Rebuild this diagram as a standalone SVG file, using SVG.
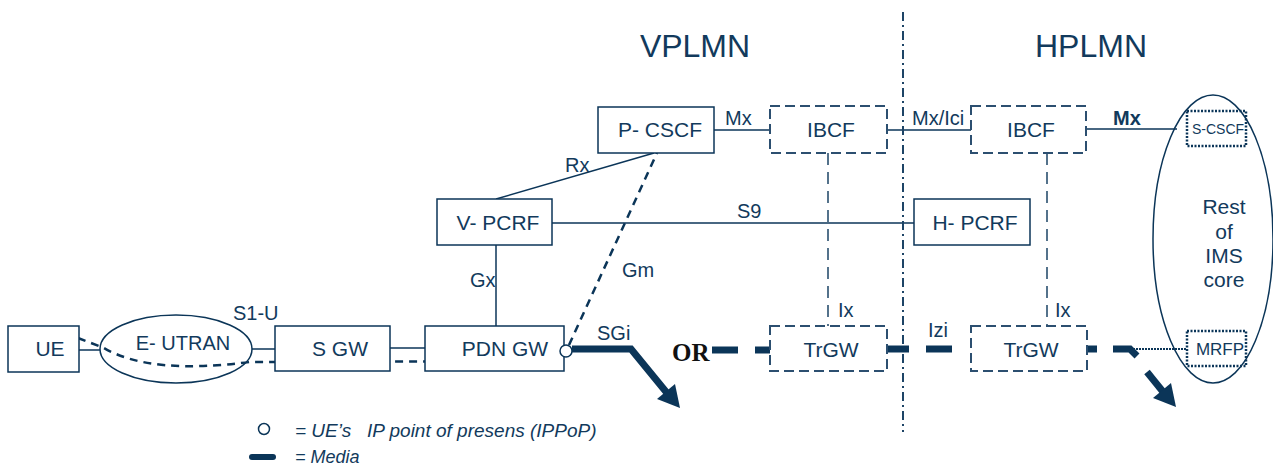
<svg xmlns="http://www.w3.org/2000/svg" width="1273" height="466" viewBox="0 0 1273 466">
<style>
text{font-family:"Liberation Sans",Arial,sans-serif;fill:#123a5c}
.n{font-size:21px;text-anchor:middle}
.l{font-size:20px}
.box{fill:#fff;stroke:#0b3558;stroke-width:1.5}
.dbox{fill:#fff;stroke:#2c4f70;stroke-width:2;stroke-dasharray:10,5}
.obox{fill:none;stroke:#0b3558;stroke-width:2.5;stroke-dasharray:2,1.5}
.ln{stroke:#0b3558;stroke-width:1.5;fill:none}
.dl{stroke:#0b3558;stroke-width:2.5;fill:none;stroke-dasharray:8,6}
.vd{stroke:#1d4466;stroke-width:1.5;fill:none;stroke-dasharray:12,7}
.md{stroke:#0b3558;stroke-width:7;fill:none}
.ah{fill:#0b3558}
</style>
<text x="695" y="57" style="font-size:32px" text-anchor="middle">VPLMN</text>
<text x="1091" y="57" style="font-size:32px" text-anchor="middle">HPLMN</text>
<g id="connectors">
<line class="ln" x1="79" y1="350" x2="100" y2="350"/>
<line class="ln" x1="252" y1="349" x2="275" y2="349"/>
<line class="ln" x1="390" y1="348" x2="425" y2="348"/>
<line class="ln" x1="496" y1="245" x2="496" y2="326"/>
<line class="ln" x1="496" y1="199" x2="654" y2="153"/>
<line class="ln" x1="552" y1="223" x2="915" y2="223"/>
<line class="ln" x1="714" y1="130" x2="770" y2="130"/>
<line class="ln" x1="887" y1="130" x2="971" y2="130"/>
<line class="ln" x1="1087" y1="129" x2="1177" y2="129"/>
<line class="vd" x1="828" y1="153" x2="828" y2="326"/>
<line class="vd" x1="1047" y1="153" x2="1047" y2="326"/>
<line stroke="#1d4466" stroke-width="2" stroke-dasharray="9,4,2,4" x1="903" y1="12" x2="903" y2="432"/>
<path class="dl" d="M78,338 L104,348 Q150,375 250,362 L535,361 Q556,359 563,354"/>
<path class="dl" d="M569,345 L657,153"/>
<path class="md" d="M572,349 L631,349 L667,393"/>
<polygon class="ah" points="680,408 657,399 675,384"/>
<line class="md" x1="712" y1="350" x2="738" y2="350"/>
<line class="md" x1="755" y1="350" x2="771" y2="350"/>
<line class="md" x1="887" y1="349" x2="909" y2="349"/>
<line class="md" x1="926" y1="349" x2="952" y2="349"/>
<line class="md" x1="1087" y1="349" x2="1097" y2="349"/>
<path class="md" d="M1113,349 L1130,349 L1137,356"/>
<line class="md" x1="1147" y1="372" x2="1164" y2="393"/>
<polygon class="ah" points="1176,407 1153,398 1171,383"/>
<line stroke="#0b3558" stroke-width="2" stroke-dasharray="2,1" x1="1133" y1="349" x2="1187" y2="349"/>
</g>
<g id="ue"><rect class="box" x="8" y="326" width="71" height="46"/><text class="n" x="50" y="356">UE</text></g>
<g id="eutran"><ellipse class="ln" cx="176" cy="349" rx="76" ry="34"/><text class="n" x="183" y="350" style="font-size:20px">E- UTRAN</text></g>
<g id="sgw"><rect class="box" x="275" y="326" width="115" height="45"/><text class="n" x="340" y="356">S GW</text></g>
<g id="pdngw"><rect class="box" x="425" y="326" width="139" height="45"/><text class="n" x="505" y="356">PDN GW</text></g>
<g id="ippop"><circle cx="566" cy="351" r="6" fill="#fff" stroke="#0b3558" stroke-width="1.5"/></g>
<g id="pcscf"><rect class="box" x="598" y="107" width="116" height="46"/><text class="n" x="660" y="137">P- CSCF</text></g>
<g id="vpcrf"><rect class="box" x="437" y="199" width="115" height="46"/><text class="n" x="498" y="230">V- PCRF</text></g>
<g id="hpcrf"><rect class="box" x="914" y="199" width="116" height="46"/><text class="n" x="975" y="230">H- PCRF</text></g>
<g id="ibcf-v"><rect class="dbox" x="770" y="106" width="117" height="47"/><text class="n" x="831" y="137">IBCF</text></g>
<g id="ibcf-h"><rect class="dbox" x="971" y="106" width="115" height="47"/><text class="n" x="1031" y="137">IBCF</text></g>
<g id="trgw-v"><rect class="dbox" x="770" y="326" width="117" height="45"/><text class="n" x="831" y="357">TrGW</text></g>
<g id="trgw-h"><rect class="dbox" x="971" y="326" width="116" height="45"/><text class="n" x="1031" y="357">TrGW</text></g>
<g id="ims"><ellipse class="ln" cx="1213" cy="239" rx="60" ry="144"/>
<text class="n" x="1224" y="214">Rest</text><text class="n" x="1224" y="239">of</text><text class="n" x="1224" y="263">IMS</text><text class="n" x="1224" y="287">core</text></g>
<g id="scscf"><rect class="obox" x="1187" y="111" width="59" height="35"/><text x="1218" y="134" style="font-size:14px" text-anchor="middle">S-CSCF</text></g>
<g id="mrfp"><rect class="obox" x="1187" y="331" width="59" height="35"/><text x="1220" y="355" style="font-size:17px" text-anchor="middle">MRFP</text></g>
<text class="l" x="725" y="125">Mx</text>
<text class="l" x="565" y="172">Rx</text>
<text class="l" x="737" y="218">S9</text>
<text class="l" x="470" y="287">Gx</text>
<text class="l" x="622" y="277">Gm</text>
<text class="l" x="233" y="320">S1-U</text>
<text class="l" x="597" y="340">SGi</text>
<text class="l" x="912" y="125">Mx/Ici</text>
<text class="l" x="1113" y="125" style="font-weight:bold">Mx</text>
<text class="l" x="838" y="317">Ix</text>
<text class="l" x="1055" y="317">Ix</text>
<text class="l" x="928" y="337">Izi</text>
<text x="672" y="361" style="font-family:'Liberation Serif','Times New Roman',serif;font-size:25px;font-weight:bold;fill:#111">OR</text>
<g id="legend">
<circle cx="264" cy="429" r="5.5" fill="#fff" stroke="#0b3558" stroke-width="1.5"/>
<text x="295" y="437" xml:space="preserve" style="font-size:19px;font-style:italic">= UE’s   IP point of presens (IPPoP)</text>
<line x1="252" y1="457" x2="273" y2="457" stroke="#0b3558" stroke-width="6" stroke-linecap="round"/>
<text x="295" y="463" style="font-size:18px;font-style:italic">= Media</text>
</g>
</svg>
